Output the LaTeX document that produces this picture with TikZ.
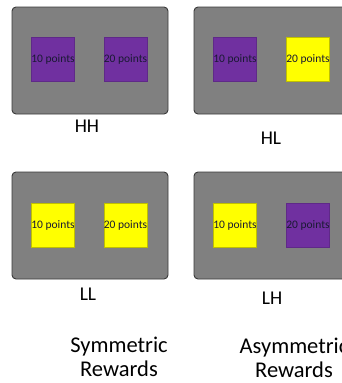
\documentclass[tikz,border=0pt]{standalone}
\usepackage{fontspec}
\setmainfont{Carlito}
\definecolor{panelgray}{HTML}{808080}
\definecolor{paneledge}{HTML}{3A3A3A}
\definecolor{hpurple}{HTML}{7030A0}
\definecolor{lyellow}{HTML}{FFFF00}
\definecolor{txtdark}{HTML}{1A1A33}
\begin{document}
\begin{tikzpicture}[x=1pt,y=-1pt,
  panel/.style={draw=paneledge, line width=0.9pt, fill=panelgray, rounded corners=4pt, minimum width=156pt, minimum height=107pt, inner sep=0pt},
  sq/.style={minimum width=43pt, minimum height=44pt, inner sep=0pt, font=\fontsize{11.5}{12}\selectfont, text=txtdark, line width=0.4pt},
  hsq/.style={sq, fill=hpurple, draw=hpurple!85!black},
  lsq/.style={sq, fill=lyellow, draw=lyellow!75!black},
  lab/.style={font=\fontsize{19.5}{20}\selectfont, inner sep=0pt},
  captxt/.style={font=\fontsize{22.5}{24}\selectfont, align=center, inner sep=0pt}]
\useasboundingbox (0,0) rectangle (341,383);
% top row
\node[panel] (pHH) at (90,60.5) {};
\node[hsq] (hh1) at (53,59.5) {10 points};
\node[hsq] (hh2) at (125.5,59.5) {20 points};
\node[lab] (tHH) at (87,126) {HH};
\node[panel] (pHL) at (272,60.5) {};
\node[hsq] (hl1) at (235,59.5) {10 points};
\node[lsq] (hl2) at (308,59.5) {20 points};
\node[lab] (tHL) at (271,138.5) {HL};
% bottom row
\node[panel] (pLL) at (90,225.5) {};
\node[lsq] (ll1) at (53,225.5) {10 points};
\node[lsq] (ll2) at (125.5,225.5) {20 points};
\node[lab] (tLL) at (88,294) {LL};
\node[panel] (pLH) at (272,225.5) {};
\node[lsq] (lh1) at (235,225) {10 points};
\node[hsq] (lh2) at (308,225) {20 points};
\node[lab] (tLH) at (272,298.5) {LH};
% captions
\node[captxt] (cs) at (119,357) {Symmetric\\Rewards};
\node[captxt] (ca) at (294,358) {Asymmetric\\Rewards};
\end{tikzpicture}
\end{document}
